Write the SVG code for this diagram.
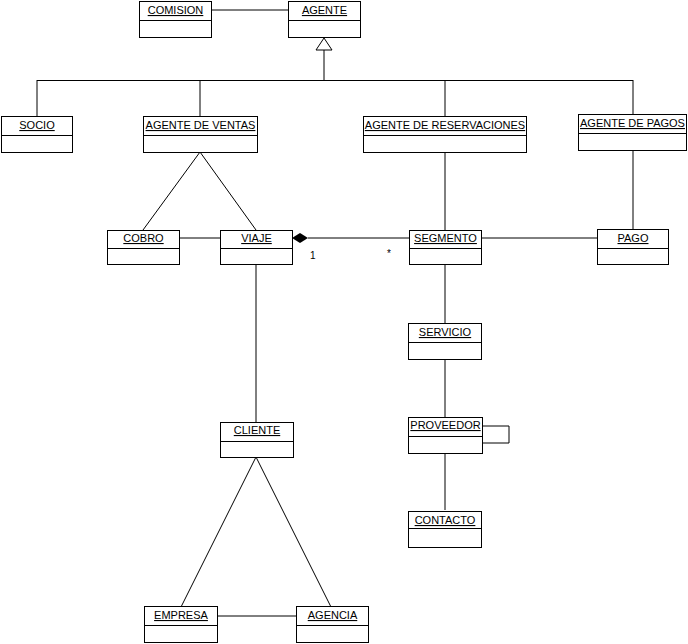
<svg xmlns="http://www.w3.org/2000/svg" width="688" height="644" viewBox="0 0 688 644">
<style>
.box{fill:#fff;stroke:#000;stroke-width:1}
.div{stroke:#000;stroke-width:1}
.t{font-family:"Liberation Sans",Arial,sans-serif;font-size:11px;text-anchor:middle;text-decoration:underline;fill:#000}
.c{fill:none;stroke:#000;stroke-width:1}
.m{font-family:"Liberation Sans",Arial,sans-serif;font-size:10px;fill:#000}
</style>
<rect width="688" height="644" fill="#fff"/>
<g id="connectors">
<line class="c" x1="211" y1="10" x2="288" y2="10"/>
<polygon points="324,38 316,50 332,50" fill="#fff" stroke="#000"/>
<line class="c" x1="324" y1="50" x2="324" y2="80" stroke-width="2"/>
<line class="c" x1="37" y1="80.5" x2="633" y2="80.5"/>
<line class="c" x1="37" y1="80" x2="37" y2="116"/>
<line class="c" x1="200" y1="80" x2="200" y2="116"/>
<line class="c" x1="445" y1="80" x2="445" y2="116"/>
<line class="c" x1="633" y1="80" x2="633" y2="114"/>
<line class="c" x1="200" y1="152" x2="143" y2="230"/>
<line class="c" x1="200" y1="152" x2="256" y2="230"/>
<line class="c" x1="179" y1="238" x2="220" y2="238"/>
<polygon points="292,238 300,233 308,238 300,243" fill="#000"/>
<line class="c" x1="308" y1="238" x2="409" y2="238"/>
<text class="m" x="310" y="259">1</text>
<text class="m" x="387" y="257">*</text>
<line class="c" x1="445" y1="152" x2="445" y2="230"/>
<line class="c" x1="633" y1="151" x2="633" y2="229"/>
<line class="c" x1="482" y1="238" x2="597" y2="238"/>
<line class="c" x1="445" y1="264" x2="445" y2="323"/>
<line class="c" x1="445" y1="359" x2="445" y2="417"/>
<polyline class="c" points="483,426 509,426 509,443 483,443"/>
<line class="c" x1="445" y1="453" x2="445" y2="510"/>
<line class="c" x1="256" y1="264" x2="256" y2="422"/>
<line class="c" x1="256" y1="457" x2="181" y2="607"/>
<line class="c" x1="256" y1="457" x2="331" y2="607"/>
<line class="c" x1="217" y1="616" x2="296" y2="616"/>
</g>
<g id="COMISION"><rect class="box" x="139.5" y="1.5" width="72" height="36"/><line class="div" x1="139.5" y1="20.5" x2="211.5" y2="20.5"/><text class="t" x="175.5" y="14">COMISION</text></g>
<g id="AGENTE"><rect class="box" x="288.5" y="1.5" width="72" height="36"/><line class="div" x1="288.5" y1="20.5" x2="360.5" y2="20.5"/><text class="t" x="324.5" y="14">AGENTE</text></g>
<g id="SOCIO"><rect class="box" x="1.5" y="116.5" width="71" height="36"/><line class="div" x1="1.5" y1="135.5" x2="72.5" y2="135.5"/><text class="t" x="37" y="129">SOCIO</text></g>
<g id="AGENTE_DE_VENTAS"><rect class="box" x="143.5" y="116.5" width="114" height="36"/><line class="div" x1="143.5" y1="135.5" x2="257.5" y2="135.5"/><text class="t" x="200.5" y="129">AGENTE DE VENTAS</text></g>
<g id="AGENTE_DE_RESERVACIONES"><rect class="box" x="363.5" y="116.5" width="163" height="36"/><line class="div" x1="363.5" y1="135.5" x2="526.5" y2="135.5"/><text class="t" x="445" y="129">AGENTE DE RESERVACIONES</text></g>
<g id="AGENTE_DE_PAGOS"><rect class="box" x="578.5" y="114.5" width="108" height="36"/><line class="div" x1="578.5" y1="133.5" x2="686.5" y2="133.5"/><text class="t" x="632.5" y="127">AGENTE DE PAGOS</text></g>
<g id="COBRO"><rect class="box" x="107.5" y="230.5" width="72" height="34"/><line class="div" x1="107.5" y1="248.5" x2="179.5" y2="248.5"/><text class="t" x="143.5" y="242">COBRO</text></g>
<g id="VIAJE"><rect class="box" x="220.5" y="230.5" width="72" height="34"/><line class="div" x1="220.5" y1="248.5" x2="292.5" y2="248.5"/><text class="t" x="256.5" y="242">VIAJE</text></g>
<g id="SEGMENTO"><rect class="box" x="409.5" y="230.5" width="72" height="34"/><line class="div" x1="409.5" y1="248.5" x2="481.5" y2="248.5"/><text class="t" x="445.5" y="242">SEGMENTO</text></g>
<g id="PAGO"><rect class="box" x="597.5" y="229.5" width="71" height="35"/><line class="div" x1="597.5" y1="248.5" x2="668.5" y2="248.5"/><text class="t" x="633" y="242">PAGO</text></g>
<g id="SERVICIO"><rect class="box" x="408.5" y="323.5" width="73" height="36"/><line class="div" x1="408.5" y1="342.5" x2="481.5" y2="342.5"/><text class="t" x="445" y="336">SERVICIO</text></g>
<g id="PROVEEDOR"><rect class="box" x="408.5" y="417.5" width="74" height="36"/><line class="div" x1="408.5" y1="436.5" x2="482.5" y2="436.5"/><text class="t" x="445.5" y="429">PROVEEDOR</text></g>
<g id="CONTACTO"><rect class="box" x="408.5" y="511.5" width="73" height="36"/><line class="div" x1="408.5" y1="528.5" x2="481.5" y2="528.5"/><text class="t" x="445" y="524">CONTACTO</text></g>
<g id="CLIENTE"><rect class="box" x="220.5" y="422.5" width="73" height="35"/><line class="div" x1="220.5" y1="441.5" x2="293.5" y2="441.5"/><text class="t" x="257" y="434">CLIENTE</text></g>
<g id="EMPRESA"><rect class="box" x="144.5" y="606.5" width="73" height="36"/><line class="div" x1="144.5" y1="625.5" x2="217.5" y2="625.5"/><text class="t" x="181" y="619">EMPRESA</text></g>
<g id="AGENCIA"><rect class="box" x="296.5" y="606.5" width="72" height="36"/><line class="div" x1="296.5" y1="625.5" x2="368.5" y2="625.5"/><text class="t" x="332.5" y="619">AGENCIA</text></g>
</svg>
